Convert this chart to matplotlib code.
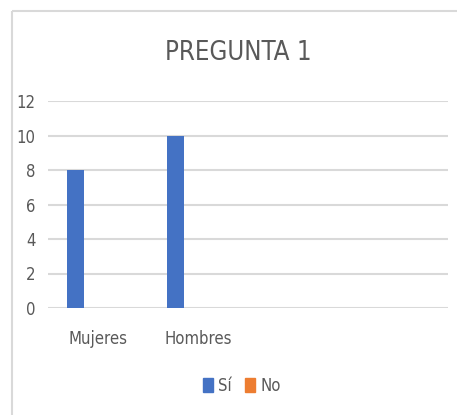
import matplotlib.pyplot as plt
from matplotlib.lines import Line2D
from matplotlib.patches import Patch
import numpy as np

# datos
categorias = ["Mujeres", "Hombres", "", ""]
si = [8, 10, 0, 0]
no = [0, 0, 0, 0]
yticks = [0, 2, 4, 6, 8, 10, 12]

AZUL = "#4472C4"
NARANJA = "#ED7D31"
GRIS_TXT = "#595959"
GRIS_LIN = "#D9D9D9"
FUENTE = ["DejaVu Sans"]

plt.rcParams["font.stretch"] = "condensed"

fig = plt.figure(figsize=(4.57, 4.15), dpi=100)
ax = fig.add_axes([48 / 457, 107 / 415, 400 / 457, 207 / 415])

# marco del grafico: solo borde izquierdo y superior visibles
xl = 11.5 / 457
yt = 1 - 11 / 415
fig.add_artist(Line2D([xl, xl], [-0.05, yt], transform=fig.transFigure,
                      color=GRIS_LIN, linewidth=1.5, solid_capstyle="butt"))
fig.add_artist(Line2D([xl, 1.05], [yt, yt], transform=fig.transFigure,
                      color=GRIS_LIN, linewidth=1.5, solid_capstyle="butt"))

x = np.arange(len(categorias))
ancho = 0.17
ax.bar(x - 0.225, si, width=ancho, color=AZUL, label="Sí", zorder=3)
ax.bar(x - 0.055, no, width=ancho, color=NARANJA, label="No", zorder=3)

ax.set_xlim(-0.5, len(categorias) - 0.5)
ax.set_ylim(0, 12)
ax.set_yticks(yticks)
ax.set_xticks(x)
ax.set_xticklabels(categorias)
ax.yaxis.grid(True, color=GRIS_LIN, linewidth=1.5, zorder=0)
ax.set_axisbelow(True)
for s in ax.spines.values():
    s.set_visible(False)
ax.tick_params(axis="both", length=0, colors=GRIS_TXT, labelsize=12)
ax.tick_params(axis="x", pad=16)
ax.tick_params(axis="y", pad=9)
for lab in ax.get_xticklabels() + ax.get_yticklabels():
    lab.set_family(FUENTE)
    lab.set_stretch("condensed")

fig.text(238 / 457, 1 - 53 / 415, "PREGUNTA 1", ha="center", va="center",
         fontsize=18.5, color=GRIS_TXT, family=FUENTE, stretch="condensed")

handles = [Patch(color=AZUL, label="Sí"), Patch(color=NARANJA, label="No")]
leg = fig.legend(handles=handles, loc="center", ncol=2,
                 bbox_to_anchor=(242 / 457, 1 - 386 / 415), frameon=False,
                 handlelength=0.6, handleheight=0.9, handletextpad=0.3,
                 columnspacing=0.8,
                 prop={"family": FUENTE, "size": 12, "stretch": "condensed"})
for t in leg.get_texts():
    t.set_color(GRIS_TXT)

fig.savefig("out.png", dpi=100)
